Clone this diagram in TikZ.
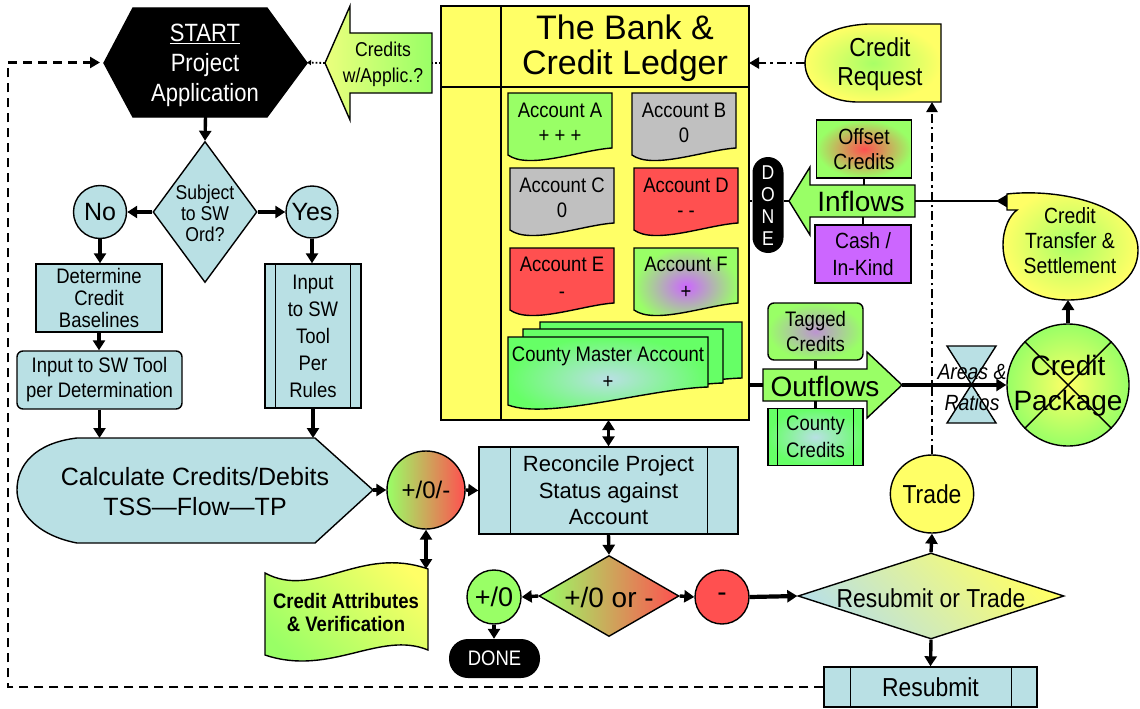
\documentclass[tikz,border=0pt]{standalone}
\usepackage{fontspec}
\setmainfont{Liberation Sans}
\newfontfamily\nar[FakeStretch=0.88]{Liberation Sans}
\usetikzlibrary{arrows.meta,shapes.geometric,fit}

\definecolor{lblue}{RGB}{185,224,228}
\definecolor{ylw}{RGB}{255,255,102}
\definecolor{lgreen}{RGB}{153,255,102}
\definecolor{bgreen}{RGB}{102,255,102}
\definecolor{rred}{RGB}{255,80,80}
\definecolor{ggray}{RGB}{192,192,192}
\definecolor{purp}{RGB}{204,102,255}

\newcommand\fsz[2]{\fontsize{#1}{#2}\selectfont}
% sheet with a wavy lower edge: x1, top, x2, right-bottom, left-bottom
\newcommand\docpath[5]{(#1,#2) -- (#3,#2) -- (#3,#4) .. controls ({#3-0.3*(#3-#1)},{#4+2}) and ({#1+0.2*(#3-#1)},{#5+15}) .. (#1,#5) -- cycle}

\begin{document}
\begin{tikzpicture}[x=1pt,y=-1pt,
  edge/.style={draw=black, line width=1.4pt},
  flow/.style={line width=3.4pt, -{Triangle[length=10pt,width=12pt]}},
  both/.style={line width=3.4pt, {Triangle[length=10pt,width=12pt]}-{Triangle[length=10pt,width=12pt]}},
  tie/.style={line width=2.8pt},
  dashdot/.style={line width=2.6pt, dash pattern=on 9pt off 4pt on 2.5pt off 4pt},
  loopline/.style={line width=2.6pt, dash pattern=on 9pt off 6pt},
  area/.style={inner sep=0pt, outer sep=0pt},
  lbl/.style={align=center, inner sep=0pt},
  box/.style={rectangle, edge, inner sep=0pt, align=center},
  ring/.style={circle, edge, inner sep=0pt, align=center}]
\useasboundingbox (0,0) rectangle (1140,709);

% ---------------- ledger ----------------
\path[edge, fill=ylw] (441,6) rectangle (749,420);
\node[area, fit={(441,6) (749,420)}] (ledger) {};
\draw[edge] (501,6) -- (501,420);
\draw[edge] (441,87) -- (749,87);
\node[lbl, font=\fsz{34}{35}] (title) at (625,48) {The Bank \&\\Credit Ledger};

\path[edge, fill=lgreen] \docpath{508}{93}{612}{148}{155};
\node[lbl, font=\nar\fsz{21}{25}] (accA) at (560,123) {Account A\\+ + +};
\path[edge, fill=ggray] \docpath{632}{93}{736}{148}{155};
\node[lbl, font=\nar\fsz{21}{25}] (accB) at (684,123) {Account B\\0};
\path[edge, fill=ggray] \docpath{510}{168}{614}{223}{230};
\node[lbl, font=\nar\fsz{21}{25}] (accC) at (562,198) {Account C\\0};
\path[edge, fill=rred] \docpath{634}{168}{738}{223}{230};
\node[lbl, font=\nar\fsz{21}{25}] (accD) at (686,198) {Account D\\- -};
\path[edge, fill=rred] \docpath{510}{248}{614}{303}{310};
\node[lbl, font=\nar\fsz{21}{27}] (accE) at (562,278) {Account E\\-};
\path[edge, inner color=purp, outer color=lgreen] \docpath{634}{248}{738}{303}{310};
\node[lbl, font=\nar\fsz{21}{27}] (accF) at (686,278) {Account F\\+};

\path[edge, fill=bgreen] \docpath{540}{322}{742}{378}{392};
\path[edge, fill=bgreen] \docpath{523}{329}{723}{383}{398};
\path[edge, inner color=lblue, outer color=bgreen] \docpath{508}{337}{708}{387}{405};
\node[lbl, font=\nar\fsz{21}{27}] (master) at (608,368) {County Master Account\\+};

% ---------------- start ----------------
\path[edge, fill=black] (104,63) -- (133,8) -- (267,8) -- (307,63) -- (267,117) -- (133,117) -- cycle;
\node[area, fit={(104,8) (307,117)}] (start) {};
\node[lbl, text=white, font=\nar\fsz{25}{30}] (startlbl) at (205,65) {\underline{START}\\Project\\Application};

\path[edge, left color={rgb,255:red,235;green,255;blue,125}, right color=lgreen]
  (325,63) -- (350,6) -- (350,33) -- (432,33) -- (432,93) -- (350,93) -- (350,120) -- cycle;
\node[area, fit={(325,6) (432,120)}] (apparrow) {};
\node[lbl, font=\nar\fsz{20}{26}] (applbl) at (383,64) {Credits\\w/Applic.?};
\draw[dotted, line width=1.8pt, -{Triangle[length=4pt,width=5pt]}] (apparrow.west) -- (start.east);
\draw[dotted, line width=1.8pt] (ledger.west |- apparrow.east) -- (apparrow.east);

% ---------------- credit request ----------------
\path[edge, inner color=lgreen!85!ylw, outer color=ylw]
  (941,24) -- (868,24) .. controls (826,26) and (805,44) .. (805,63)
  .. controls (805,84) and (826,102) .. (858,102) -- (941,102) -- cycle;
\node[area, fit={(805,24) (941,102)}] (creq) {};
\node[lbl, font=\nar\fsz{26}{29}] (creqlbl) at (880,64) {Credit\\Request};
\draw[dashdot, -{Triangle[length=10pt,width=11pt]}] (creq.west) -- (creq.west -| ledger.east);

% ---------------- inflows ----------------
\node[rectangle, rounded corners=15.5pt, fill=black, minimum width=31pt, minimum height=96pt, inner sep=0pt] (doneR) at (768,205) {};
\node[lbl, text=white, font=\nar\fsz{20}{22}] (doneRlbl) at (768,206) {D\\O\\N\\E};

\path[edge, fill=lgreen] (789,201) -- (810,167) -- (810,185) -- (915,185) -- (915,217) -- (810,217) -- (810,235) -- cycle;
\node[area, fit={(789,167) (915,235)}] (inflows) {};
\node[area, fit={(810,185) (915,217)}] (inbody) {};
\node[lbl, font=\fsz{28}{30}] (inlbl) at (861,201) {Inflows};
\node[box, inner color=rred, outer color=lgreen, minimum width=95pt, minimum height=58pt, font=\nar\fsz{22}{25}] (offset) at (864,149) {Offset\\Credits};
\node[box, fill=purp, minimum width=96pt, minimum height=58pt, font=\nar\fsz{22}{27}] (cash) at (863,254) {Cash /\\In-Kind};
\draw[tie] (offset.south) -- (offset.south |- inbody.north);
\draw[tie] (cash.north |- inbody.south) -- (cash.north);
\draw[tie] (ledger.east |- inflows.west) -- (doneR.west |- inflows.west);
\draw[tie] (doneR.east |- inflows.west) -- (inflows.west);

% ---------------- transfer & settlement ----------------
\coordinate (ctnotch) at (1007,201);
\draw[tie, -{Triangle[length=11pt,width=12pt,reversed]}] (inbody.east) -- (ctnotch);
\path[edge, inner color=lgreen!85!ylw, outer color=ylw]
  (1007,194) .. controls (1060,188) and (1138,205) .. (1138,250)
  .. controls (1138,285) and (1100,300) .. (1068,300)
  .. controls (1025,300) and (1003,275) .. (1003,245)
  .. controls (1003,228) and (1010,215) .. (1017,210) -- (1007,210) -- cycle;
\node[area, fit={(1003,193) (1138,300)}] (ct) {};
\node[lbl, font=\nar\fsz{22}{25}] (ctlbl) at (1070,241) {Credit\\Transfer \&\\Settlement};

% ---------------- outflows ----------------
\node[box, rounded corners=6pt, inner color=purp!70!lgreen, outer color=lgreen, minimum width=95pt, minimum height=57pt, font=\nar\fsz{21}{25}] (tagged) at (815.5,331.5) {Tagged\\Credits};
\path[edge, fill=lgreen] (763,369) -- (867,369) -- (867,352) -- (902,385) -- (867,418) -- (867,401) -- (763,401) -- cycle;
\node[area, fit={(763,352) (902,418)}] (outflows) {};
\node[area, fit={(763,369) (867,401)}] (outbody) {};
\node[lbl, font=\fsz{28}{30}] (outlbl) at (825,386) {Outflows};
\node[box, inner color=lblue, outer color=bgreen, minimum width=95pt, minimum height=57pt, font=\nar\fsz{21}{27}] (county) at (815.5,437) {County\\Credits};
\draw[edge] ([xshift=10pt]county.north west) -- ([xshift=10pt]county.south west)
            ([xshift=-10pt]county.north east) -- ([xshift=-10pt]county.south east);
\draw[tie] (tagged.south) -- (tagged.south |- outbody.north);
\draw[tie] (county.north |- outbody.south) -- (county.north);
\draw[line width=3.4pt] (outbody.west -| ledger.east) -- (outbody.west);

\node[circle, edge, inner color=ylw, outer color=lgreen, minimum size=122pt, inner sep=0pt] (pkg) at (1068,385) {};
\draw[edge] (pkg.north west) -- (pkg.south east) (pkg.north east) -- (pkg.south west);
\node[lbl, font=\fsz{28}{35}] (pkglbl) at (1068,386) {Credit\\Package};

\path[edge, fill=lblue] (947,346) -- (996,346) -- (947,423) -- (996,423) -- cycle;
\draw[flow] (outflows.east) -- (pkg.west);
\node[lbl, font=\nar\itshape\fsz{22}{24}] (areas) at (972,372) {Areas \&};
\node[lbl, font=\nar\itshape\fsz{22}{24}] (ratios) at (972,403) {Ratios};
\draw[flow] (pkg.north) -- (pkg.north |- ct.south);

% ---------------- left column ----------------
\node[diamond, edge, fill=lblue, minimum width=104pt, minimum height=141pt, inner sep=0pt] (subj) at (205,212) {};
\node[lbl, font=\nar\fsz{20}{21}] (subjlbl) at (205,213) {Subject\\to SW\\Ord?};
\node[ring, fill=lblue, minimum size=53pt, font=\fsz{25}{28}] (no) at (100,212) {No};
\node[ring, fill=lblue, minimum size=52pt, font=\fsz{25}{28}] (yes) at (312,212) {Yes};
\draw[flow] (start.south) -- (subj.north);
\draw[flow] (subj.west) -- (no.east);
\draw[flow] (subj.east) -- (yes.west);

\node[box, fill=lblue, minimum width=126pt, minimum height=68pt, font=\nar\fsz{21}{22}] (baseline) at (99,298) {Determine\\Credit\\Baselines};
\node[box, rounded corners=6pt, fill=lblue, minimum width=165pt, minimum height=58pt, font=\nar\fsz{21}{25}] (perdet) at (99.5,380) {Input to SW Tool\\per Determination};
\node[box, fill=lblue, minimum width=96pt, minimum height=144pt, font=\nar\fsz{21}{27}] (perrules) at (313,336) {Input\\to SW\\Tool\\Per\\Rules};
\draw[edge] ([xshift=11pt]perrules.north west) -- ([xshift=11pt]perrules.south west)
            ([xshift=-11pt]perrules.north east) -- ([xshift=-11pt]perrules.south east);

\path[edge, fill=lblue] (77,438) -- (315,438) -- (373,490) -- (315,543) -- (77,543)
  .. controls (35,535) and (17,510) .. (17,490) .. controls (17,465) and (35,443) .. (77,438) -- cycle;
\node[area, fit={(17,438) (373,542)}] (calc) {};
\node[lbl, font=\fsz{25}{30}] (calclbl) at (195,492) {Calculate Credits/Debits\\TSS---Flow---TP};

\draw[flow] (no.south) -- (no.south |- baseline.north);
\draw[flow] (baseline.south) -- (baseline.south |- perdet.north);
\draw[flow] (perdet.south) -- (perdet.south |- calc.north);
\draw[flow] (yes.south) -- (yes.south |- perrules.north);
\draw[flow] (perrules.south) -- (perrules.south |- calc.north);

% ---------------- reconciliation ----------------
\node[ring, left color=lgreen, right color=rred, minimum size=78pt, font=\fsz{24}{26}] (tally) at (426,490) {+/0/-};
\node[box, fill=lblue, minimum width=259pt, minimum height=87pt, font=\fsz{22}{26.5}] (rec) at (608.5,490.5) {Reconcile Project\\Status against\\Account};
\draw[edge] ([xshift=32pt]rec.north west) -- ([xshift=32pt]rec.south west)
            ([xshift=-31pt]rec.north east) -- ([xshift=-31pt]rec.south east);
\draw[flow] (calc.east) -- (tally.west);
\draw[flow] (tally.east) -- (rec.west);
\draw[both] (rec.north |- ledger.south) -- (rec.north);

\path[edge, top color=ylw, bottom color=lgreen, shading angle=-45]
  (265,573) .. controls (315,600) and (360,545) .. (428,569) -- (428,650)
  .. controls (380,630) and (330,677) .. (265,655) -- cycle;
\node[area, fit={(265,563) (428,660)}] (attr) {};
\coordinate (attrtop) at (426,569);
\node[lbl, font=\nar\bfseries\fsz{21}{23}] (attrlbl) at (346,612) {Credit Attributes\\\& Verification};
\draw[both] (tally.south) -- (attrtop);

\node[diamond, edge, left color=lgreen, right color=rred, minimum width=140pt, minimum height=81pt, inner sep=0pt] (verdict) at (609,596) {};
\node[lbl, font=\fsz{28}{30}] (verdictlbl) at (609,597) {+/0 or -};
\node[ring, fill=lgreen, minimum size=54pt, font=\fsz{27}{28}] (ok) at (494,597) {+/0};
\node[ring, fill=rred, minimum size=54pt, font=\fsz{28}{28}] (neg) at (722,597) {-};
\node[rectangle, rounded corners=19pt, fill=black, minimum width=91pt, minimum height=39pt, inner sep=0pt, text=white, font=\nar\fsz{21}{22}] (doneB) at (494.5,658.5) {DONE};

\node[diamond, edge, top color=ylw, bottom color=lblue, shading angle=-45, minimum width=266pt, minimum height=86pt, inner sep=0pt] (rot) at (931,596) {};
\node[lbl, font=\nar\fsz{26}{28}] (rotlbl) at (931,598) {Resubmit or Trade};
\node[ellipse, edge, fill=ylw, minimum width=81pt, minimum height=78pt, inner sep=0pt, font=\nar\fsz{26}{28}] (trade) at (932,494) {Trade};
\node[box, fill=lblue, minimum width=213pt, minimum height=40pt, font=\nar\fsz{26}{28}] (res) at (930.5,687) {Resubmit};
\draw[edge] ([xshift=27pt]res.north west) -- ([xshift=27pt]res.south west)
            ([xshift=-26pt]res.north east) -- ([xshift=-26pt]res.south east);

\draw[flow] (rec.south) -- (verdict.north);
\draw[flow] (verdict.west) -- (ok.east);
\draw[flow] (verdict.east) -- (neg.west);
\draw[flow] (ok.south) -- (ok.south |- doneB.north);
\draw[flow, line width=4.2pt] (neg.east) -- (rot.west);
\draw[flow] (rot.north) -- (trade.south);
\draw[flow] (rot.south) -- (res.north);
\draw[dashdot, -{Triangle[length=10pt,width=11pt]}] (trade.north) -- (trade.north |- creq.south);

% ---------------- resubmission loop ----------------
\coordinate (loopx) at (8,0);
\draw[loopline, -{Triangle[length=10pt,width=11pt]}] (res.west) -- (res.west -| loopx) -- (start.west -| loopx) -- ([xshift=-4pt]start.west);
\end{tikzpicture}
\end{document}
